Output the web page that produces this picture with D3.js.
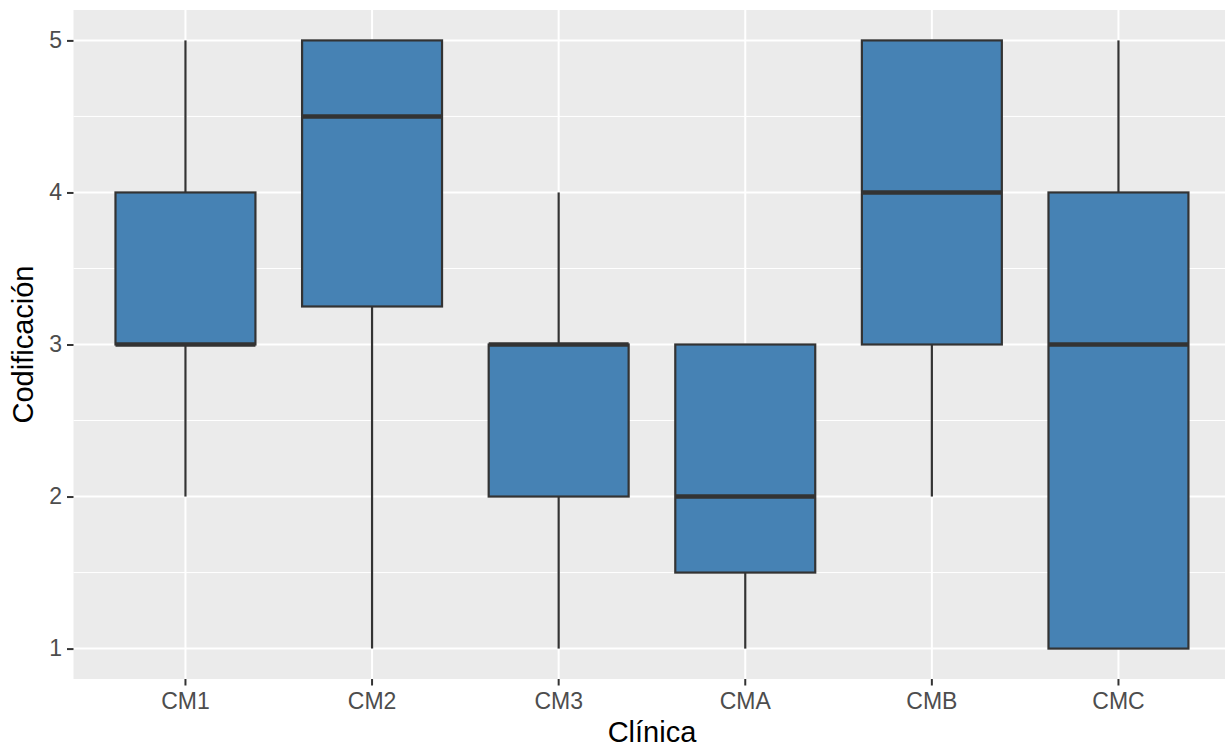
<!DOCTYPE html>
<html>
<head>
<meta charset="utf-8">
<script src="https://cdn.jsdelivr.net/npm/d3@7"></script>
<style>
body { margin: 0; background: #fff; }
svg { display: block; font-family: "Liberation Sans", Arial, sans-serif; }
</style>
</head>
<body>
<svg id="chart" width="1225" height="749"></svg>
<script>
const categories = ["CM1", "CM2", "CM3", "CMA", "CMB", "CMC"];
const whiskerLow = [2, 1, 1, 1, 2, 1];
const q1 = [3, 3.25, 2, 1.5, 3, 1];
const medians = [3, 4.5, 3, 2, 4, 3];
const q3 = [4, 5, 3, 3, 5, 4];
const whiskerHigh = [5, 5, 4, 3, 5, 5];
const yTicks = [1, 2, 3, 4, 5];
const yMinor = [1.5, 2.5, 3.5, 4.5];
const xTitle = "Clínica";
const yTitle = "Codificación";

const svg = d3.select("#chart");
const panel = { left: 73.5, top: 10, bottom: 679 };
const step = 186.6;
const panelRight = panel.left + step * 6.2;

const x = d3.scaleLinear().domain([0.4, 6.6]).range([panel.left, panelRight]);
const xc = i => x(i + 1);
const y = d3.scaleLinear().domain([0.8, 5.2]).range([panel.bottom, panel.top]);

svg.append("rect").attr("x", panel.left).attr("y", panel.top)
  .attr("width", panelRight - panel.left).attr("height", panel.bottom - panel.top)
  .attr("fill", "#EBEBEB");

const g = svg.append("g");
g.selectAll(".minor").data(yMinor).enter().append("line")
  .attr("x1", panel.left).attr("x2", panelRight)
  .attr("y1", d => y(d)).attr("y2", d => y(d))
  .attr("stroke", "#fff").attr("stroke-width", 1);
g.selectAll(".majory").data(yTicks).enter().append("line")
  .attr("x1", panel.left).attr("x2", panelRight)
  .attr("y1", d => y(d)).attr("y2", d => y(d))
  .attr("stroke", "#fff").attr("stroke-width", 2);
g.selectAll(".majorx").data(categories).enter().append("line")
  .attr("x1", (d, i) => xc(i)).attr("x2", (d, i) => xc(i))
  .attr("y1", panel.top).attr("y2", panel.bottom)
  .attr("stroke", "#fff").attr("stroke-width", 2);

const boxW = step * 0.75;
const boxes = g.selectAll(".box").data(categories).enter().append("g");
boxes.append("line")
  .attr("x1", (d, i) => xc(i)).attr("x2", (d, i) => xc(i))
  .attr("y1", (d, i) => y(q3[i])).attr("y2", (d, i) => y(whiskerHigh[i]))
  .attr("stroke", "#333").attr("stroke-width", 2.2);
boxes.append("line")
  .attr("x1", (d, i) => xc(i)).attr("x2", (d, i) => xc(i))
  .attr("y1", (d, i) => y(q1[i])).attr("y2", (d, i) => y(whiskerLow[i]))
  .attr("stroke", "#333").attr("stroke-width", 2.2);
boxes.append("rect")
  .attr("x", (d, i) => xc(i) - boxW / 2).attr("width", boxW)
  .attr("y", (d, i) => y(q3[i])).attr("height", (d, i) => y(q1[i]) - y(q3[i]))
  .attr("fill", "#4682B4").attr("stroke", "#333").attr("stroke-width", 2.2);
boxes.append("line")
  .attr("x1", (d, i) => xc(i) - boxW / 2).attr("x2", (d, i) => xc(i) + boxW / 2)
  .attr("y1", (d, i) => y(medians[i])).attr("y2", (d, i) => y(medians[i]))
  .attr("stroke", "#333").attr("stroke-width", 4.5);

// axes
const yAxis = svg.append("g").attr("transform", `translate(${panel.left},0)`)
  .call(d3.axisLeft(y).tickValues(yTicks).tickFormat(d3.format("d")).tickSize(6.5).tickPadding(5));
yAxis.select(".domain").remove();
yAxis.selectAll(".tick line").attr("stroke", "#333").attr("stroke-width", 2);
yAxis.selectAll(".tick text").attr("fill", "#4D4D4D").style("font-size", "23px")
  .style("font-family", "Liberation Sans, Arial, sans-serif");

const xBand = d3.scaleOrdinal().domain(categories).range(categories.map((d, i) => xc(i)));
const xAxis = svg.append("g").attr("transform", `translate(0,${panel.bottom})`);
const ticks = xAxis.selectAll(".tick").data(categories).enter().append("g")
  .attr("transform", d => `translate(${xBand(d)},0)`);
ticks.append("line").attr("y1", 0).attr("y2", 6.5).attr("stroke", "#333").attr("stroke-width", 2);
ticks.append("text").attr("y", 30).attr("text-anchor", "middle")
  .attr("fill", "#4D4D4D").style("font-size", "23px").text(d => d);

svg.append("text").attr("x", (panel.left + panelRight) / 2).attr("y", 742)
  .attr("text-anchor", "middle").attr("fill", "#000").style("font-size", "29px").text(xTitle);
svg.append("text").attr("transform", `translate(33,${(panel.top + panel.bottom) / 2}) rotate(-90)`)
  .attr("text-anchor", "middle").attr("fill", "#000").style("font-size", "29px").text(yTitle);
</script>
</body>
</html>
